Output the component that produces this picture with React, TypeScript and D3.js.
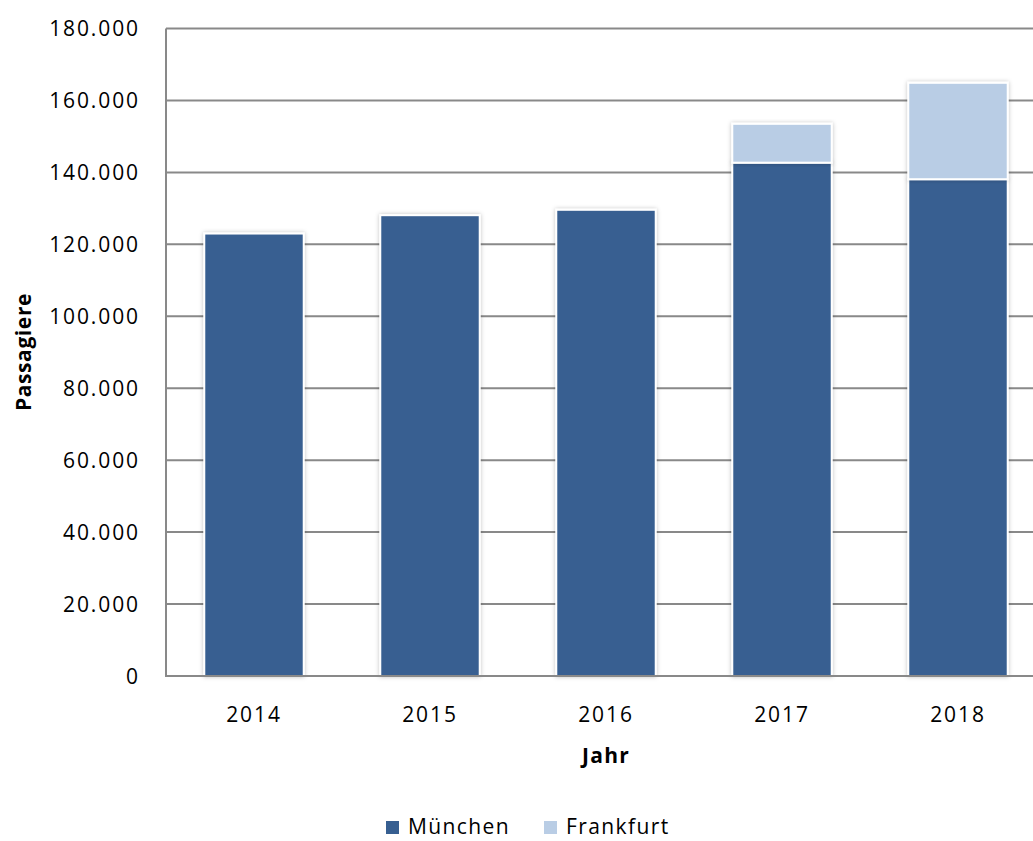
import React from "react";
import * as d3 from "d3";

const years = ["2014", "2015", "2016", "2017", "2018"];
const muenchen = [123000, 128100, 129600, 142700, 138100];
const frankfurt = [0, 0, 0, 10800, 26800];
const yTicks = [0, 20000, 40000, 60000, 80000, 100000, 120000, 140000, 160000, 180000];
const seriesNames = ["München", "Frankfurt"];
const colors = ["#375f91", "#b9cde5"];

const W = 1033;
const H = 841;
const left = 166;
const right = 1046;
const top = 28.5;
const bottom = 676;

export default function App() {
  const x = d3.scaleBand<string>().domain(years).range([left, right]).paddingInner(0.435).paddingOuter(0.2175);
  const y = d3.scaleLinear().domain([0, 180000]).range([bottom, top]);
  const fmt = (v: number) => d3.format(",")(v).replace(/,/g, ".");
  const font = "'Open Sans', 'Noto Sans', sans-serif";
  const stack = d3.stack<number>().keys(["0", "1"]).value((i, k) => (k === "0" ? muenchen[i] : frankfurt[i]));
  const layers = stack(years.map((_, i) => i));

  return (
    <div style={{ position: "absolute", left: 0, top: 0 }}>
      <svg width={W} height={H} style={{ display: "block", background: "#fff" }}>
        <defs>
          <filter id="sh" x="-10%" y="-10%" width="120%" height="120%">
            <feDropShadow dx="0" dy="0" stdDeviation="2" floodColor="#000" floodOpacity="0.25" />
          </filter>
        </defs>
        {yTicks.map((t) => (
          <g key={t}>
            {t > 0 && <line x1={left} x2={W} y1={y(t)} y2={y(t)} stroke="#898989" strokeWidth={2} />}
            <text
              x={140}
              y={y(t)}
              dy="0.36em"
              textAnchor="end"
              fontFamily={font}
              fontSize={21}
              letterSpacing={1.9}
              fill="#000"
            >
              {fmt(t)}
            </text>
          </g>
        ))}
        {layers.map((layer, li) => (
          <g key={li}>
            {layer.map((d, i) =>
              d[1] - d[0] > 0 ? (
                <rect
                  key={i}
                  x={x(years[i])!}
                  width={x.bandwidth()}
                  y={y(d[1])}
                  height={y(d[0]) - y(d[1])}
                  fill={colors[li]}
                  stroke="#fff"
                  strokeWidth={2}
                  filter="url(#sh)"
                />
              ) : null
            )}
          </g>
        ))}
        <line x1={left} x2={left} y1={top} y2={bottom} stroke="#898989" strokeWidth={2} />
        <line x1={left - 1} x2={W} y1={bottom} y2={bottom} stroke="#898989" strokeWidth={2} />
        {years.map((yr) => (
          <text
            key={yr}
            x={x(yr)! + x.bandwidth() / 2}
            y={722}
            textAnchor="middle"
            fontFamily={font}
            fontSize={21}
            letterSpacing={1.9}
            fill="#000"
          >
            {yr}
          </text>
        ))}
        <text x={606} y={763} textAnchor="middle" fontFamily={font} fontSize={21} fontWeight="bold" letterSpacing={1.3} fill="#000">
          Jahr
        </text>
        <text
          transform={`translate(31,352) rotate(-90)`}
          textAnchor="middle"
          fontFamily={font}
          fontSize={21}
          fontWeight="bold"
          letterSpacing={0.6}
          fill="#000"
        >
          Passagiere
        </text>
        {seriesNames.map((n, i) => {
          const lx = i === 0 ? 386 : 544;
          return (
            <g key={n}>
              <rect x={lx} y={821} width={13} height={13} fill={colors[i]} />
              <text x={lx + 22} y={834} fontFamily={font} fontSize={21} letterSpacing={1.4} fill="#000">
                {n}
              </text>
            </g>
          );
        })}
      </svg>
    </div>
  );
}
